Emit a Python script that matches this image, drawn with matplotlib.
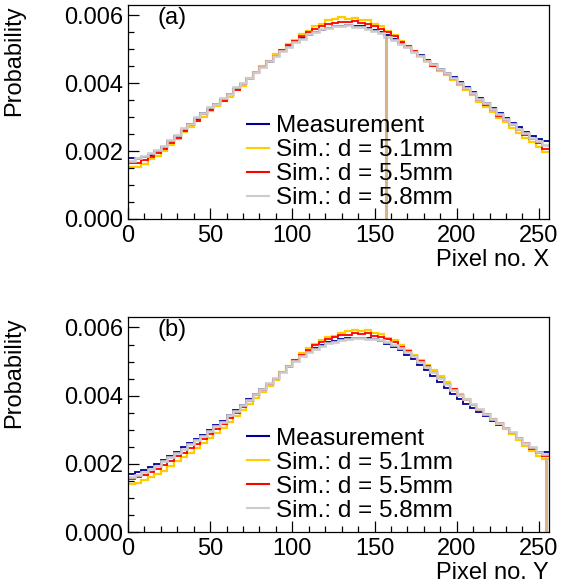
import numpy as np
import matplotlib
matplotlib.use("Agg")
import matplotlib.pyplot as plt
from matplotlib.ticker import MultipleLocator, FormatStrFormatter

plt.rcParams["font.family"] = ["Liberation Sans", "DejaVu Sans"]

# ----- data (probability per pixel, in units of 1e-4, 4-pixel bins) -----
bin_edges = np.arange(0, 260, 4)
unit = 1e-4

meas_x = [18.0, 17.6, 18.2, 19.0, 20.0, 21.3, 22.9, 24.6, 26.3, 28.0, 29.6, 31.1, 32.5, 33.9, 35.3, 36.8,
          38.3, 39.9, 41.5, 43.1, 44.8, 46.4, 48.0, 49.5, 50.9, 52.2, 53.3, 54.3, 55.1, 55.8, 56.4, 56.8,
          57.0, 57.1, 57.0, 56.8, 56.4, 55.8, 55.0, 54.1, 53.0, 51.8, 50.7, 49.5, 48.2, 46.9, 45.6, 44.3,
          43.0, 41.8, 40.3, 38.8, 37.3, 35.7, 34.2, 32.7, 31.2, 29.8, 28.4, 27.0, 25.7, 24.5, 23.5, 23.0]
sim51_x = [15.2, 15.4, 16.1, 17.6, 18.5, 20.0, 21.8, 23.5, 25.6, 27.0, 28.9, 30.0, 31.8, 33.2, 34.9, 36.0,
           37.9, 39.2, 41.5, 43.1, 45.2, 46.6, 48.5, 49.9, 51.5, 52.7, 54.4, 55.4, 56.9, 57.5, 58.6, 58.9,
           59.4, 59.1, 59.3, 58.8, 58.6, 57.4, 56.8, 55.3, 54.3, 52.4, 51.1, 49.6, 48.0, 46.5, 45.2, 43.7,
           42.5, 41.0, 39.6, 37.9, 36.5, 34.6, 33.1, 31.5, 29.8, 28.5, 26.8, 25.3, 23.9, 22.6, 21.2, 19.6]
sim55_x = [16.4, 16.6, 17.4, 18.3, 19.5, 20.6, 22.3, 24.0, 25.8, 27.6, 29.0, 30.8, 32.1, 33.8, 34.9, 36.7,
           38.0, 39.8, 41.3, 43.3, 44.9, 46.6, 48.1, 49.9, 51.2, 52.6, 53.9, 55.0, 55.9, 56.8, 57.4, 57.9,
           58.2, 58.1, 58.3, 57.9, 57.6, 56.9, 56.1, 55.0, 53.8, 52.3, 50.9, 49.4, 47.9, 46.6, 45.1, 43.9,
           42.6, 41.3, 39.8, 38.3, 36.7, 35.2, 33.6, 32.1, 30.5, 29.2, 27.7, 26.3, 24.9, 23.6, 22.3, 20.6]
sim58_x = [17.2, 17.9, 18.6, 19.5, 20.4, 21.6, 23.4, 24.8, 26.7, 28.1, 30.0, 31.2, 32.9, 34.0, 35.7, 36.9,
           38.8, 40.0, 41.7, 43.2, 44.8, 46.5, 47.9, 49.6, 50.7, 52.3, 53.2, 54.4, 55.0, 55.9, 56.2, 57.0,
           56.9, 57.3, 56.7, 56.6, 56.0, 55.4, 54.8, 53.6, 52.9, 51.5, 50.6, 49.2, 48.1, 46.7, 45.6, 44.1,
           43.0, 41.6, 40.2, 38.6, 37.2, 35.5, 34.1, 32.5, 31.0, 29.5, 28.1, 26.6, 25.3, 24.0, 22.9, 21.8]

meas_y = [17.1, 17.6, 18.3, 19.1, 20.0, 21.1, 22.4, 23.6, 24.8, 26.0, 27.3, 28.6, 29.9, 31.3, 32.7, 34.2,
          35.7, 37.3, 38.9, 40.4, 41.9, 43.4, 45.0, 46.8, 48.5, 50.1, 51.6, 52.9, 54.0, 54.9, 55.6, 56.1,
          56.5, 56.8, 57.0, 57.0, 56.9, 56.5, 56.0, 55.3, 54.4, 53.3, 52.0, 50.7, 49.1, 47.5, 45.8, 44.1,
          42.3, 40.6, 39.1, 37.7, 36.4, 35.1, 33.9, 32.7, 31.5, 30.1, 28.8, 27.4, 26.0, 24.7, 23.5, 23.6]
sim51_y = [14.0, 14.5, 15.3, 16.0, 17.1, 18.0, 19.5, 20.7, 22.0, 23.2, 24.7, 26.0, 27.5, 29.0, 30.5, 32.4,
           34.0, 35.9, 37.6, 39.3, 41.0, 42.8, 44.6, 46.9, 48.6, 50.6, 52.4, 53.9, 55.3, 56.2, 57.1, 57.6,
           58.5, 58.9, 59.4, 59.0, 59.3, 58.3, 58.2, 57.0, 56.2, 54.8, 53.4, 51.9, 50.6, 49.0, 47.4, 45.8,
           43.9, 42.1, 40.6, 39.0, 37.4, 35.9, 34.5, 33.2, 31.8, 30.3, 28.7, 27.0, 25.3, 23.9, 22.4, 21.5]
sim55_y = [15.5, 16.0, 16.7, 17.6, 18.5, 19.7, 20.9, 22.2, 23.3, 24.7, 25.9, 27.4, 28.7, 30.3, 31.6, 33.4,
           35.0, 36.8, 38.3, 40.1, 41.6, 43.3, 45.0, 46.9, 48.7, 50.4, 52.0, 53.5, 54.9, 55.8, 56.6, 57.2,
           57.7, 57.9, 58.3, 58.0, 58.3, 57.6, 57.2, 56.5, 55.6, 54.2, 53.1, 51.6, 50.2, 48.6, 47.0, 45.3,
           43.5, 41.9, 40.3, 38.8, 37.4, 35.9, 34.5, 33.3, 31.9, 30.5, 29.1, 27.5, 26.0, 24.5, 23.1, 22.3]
sim58_y = [16.0, 16.7, 17.5, 18.6, 19.5, 20.7, 21.9, 23.3, 24.4, 25.8, 26.9, 28.3, 29.5, 31.1, 32.4, 34.2,
           35.5, 37.4, 38.8, 40.6, 41.9, 43.8, 45.1, 47.0, 48.6, 50.2, 51.5, 52.8, 53.8, 54.7, 55.4, 55.8,
           56.2, 56.5, 56.8, 56.9, 56.7, 56.6, 56.2, 55.6, 54.9, 53.9, 52.8, 51.5, 50.0, 48.4, 46.9, 45.2,
           43.5, 41.8, 40.3, 38.9, 37.6, 36.0, 34.6, 33.3, 32.1, 30.6, 29.2, 27.6, 26.2, 24.8, 23.6, 22.9]

# dead pixel column (simulation bin falls to zero): pixel position, height
dead_x = [157.0, 254.6]
dead_top = [54.0, 22.0]

labels = ["Measurement", "Sim.: d = 5.1mm", "Sim.: d = 5.5mm", "Sim.: d = 5.8mm"]
colors = ["#000099", "#ffcc00", "#ff0000", "#cccccc"]
widths = [1.3, 1.6, 1.3, 1.9]
panels = [
    ("(a)", "Pixel no. X", [meas_x, sim51_x, sim55_x, sim58_x]),
    ("(b)", "Pixel no. Y", [meas_y, sim51_y, sim55_y, sim58_y]),
]

fig = plt.figure(figsize=(5.74, 5.88), dpi=100)
ax_rects = [(0.223, 0.6276, 0.733, 0.364), (0.223, 0.0952, 0.733, 0.3658)]

for i, (tag, xlab, series) in enumerate(panels):
    ax = fig.add_axes(ax_rects[i])
    for vals, lab, col, lw in zip(series, labels, colors, widths):
        ax.stairs(np.asarray(vals) * unit, bin_edges, color=col, lw=lw, label=lab,
                  baseline=None)
    ax.vlines(dead_x[i], 0, dead_top[i] * unit, color="#d8b48c", lw=2.2, zorder=1.5)

    ax.set_xlim(0, 256)
    ax.set_ylim(0, 0.00631)
    ax.xaxis.set_major_locator(MultipleLocator(50))
    ax.xaxis.set_minor_locator(MultipleLocator(10))
    ax.yaxis.set_major_locator(MultipleLocator(0.002))
    ax.yaxis.set_minor_locator(MultipleLocator(0.0005))
    ax.yaxis.set_major_formatter(FormatStrFormatter("%.3f"))
    ax.tick_params(which="both", direction="in", labelsize=17, width=0.9,
                   top=False, right=False)
    ax.tick_params(which="major", length=8)
    ax.tick_params(which="minor", length=4)
    ax.tick_params(axis="x", pad=4)
    ax.tick_params(axis="y", pad=3.5)
    for s in ax.spines.values():
        s.set_linewidth(0.9)

    ax.text(0.071, 0.94, tag, transform=ax.transAxes, fontsize=17,
            ha="left", va="center")
    ax.text(1.0, -0.19, xlab, transform=ax.transAxes, fontsize=17,
            ha="right", va="center")
    ax.set_ylabel("Probability", fontsize=17, loc="top")
    ax.yaxis.set_label_coords(-0.245, 1.0)

    leg = ax.legend(loc="upper left", bbox_to_anchor=(0.283, 0.485), frameon=False,
                    fontsize=17.5, handlelength=0.9, handletextpad=0.3,
                    labelspacing=0.08, borderpad=0, borderaxespad=0)
    for h in leg.get_lines():
        h.set_linewidth(1.5)

fig.savefig("out.png", dpi=100)
